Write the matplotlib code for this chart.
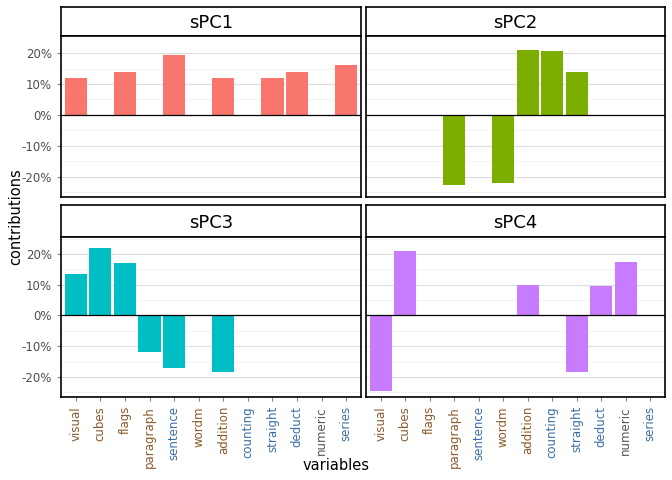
import matplotlib.pyplot as plt
import numpy as np

variables = ["visual", "cubes", "flags", "paragraph", "sentence", "wordm",
             "addition", "counting", "straight", "deduct", "numeric", "series"]
label_colors = ["#8B5A2B", "#8B5A2B", "#8B5A2B", "#8B5A2B", "#3A6EA5", "#8B5A2B",
                "#8B5A2B", "#3A6EA5", "#3A6EA5", "#3A6EA5", "#555555", "#3A6EA5"]
spc1 = [12, 0, 14, 0, 19.5, 0, 12, 0, 12, 14, 0, 16]
spc2 = [0, 0, 0, -22.5, 0, -22, 21, 20.5, 14, 0, 0, 0]
spc3 = [13.5, 22, 17, -12, -17, 0, -18.5, 0, 0, 0, 0, 0]
spc4 = [-24.5, 21, 0, 0, 0, 0, 10, 0, -18.5, 9.5, 17.5, 0]
panels = ["sPC1", "sPC2", "sPC3", "sPC4"]
series = [spc1, spc2, spc3, spc4]
colors = ["#F8766D", "#7CAE00", "#00BFC4", "#C77CFF"]

W, H = 672, 480
fig = plt.figure(figsize=(6.72, 4.8), dpi=100)
lefts = [61, 366]
widths = [300, 299]
strip_tops = [7, 205]
plot_tops = [36, 237]
plot_bots = [197, 397]
x = np.arange(len(variables))

for i, (name, vals, col) in enumerate(zip(panels, series, colors)):
    r, c = divmod(i, 2)
    l, w = lefts[c], widths[c]
    st, pt, pb = strip_tops[r], plot_tops[r], plot_bots[r]
    sax = fig.add_axes([l / W, 1 - pt / H, w / W, (pt - st) / H])
    sax.set_xticks([]); sax.set_yticks([])
    for s in sax.spines.values():
        s.set_linewidth(1.2)
    sax.text(0.5, 0.45, name, ha="center", va="center", fontsize=13, transform=sax.transAxes)
    ax = fig.add_axes([l / W, 1 - pb / H, w / W, (pb - pt) / H])
    ax.bar(x, vals, width=0.9, color=col, zorder=3)
    ax.axhline(0, color="black", lw=0.9, zorder=4)
    ax.set_ylim(-26.5, 25.5)
    ax.set_xlim(-0.6, len(variables) - 0.4)
    ax.set_yticks([-20, -10, 0, 10, 20])
    ax.set_yticks([-25, -15, -5, 5, 15, 25], minor=True)
    ax.grid(True, axis="y", which="major", color="#DDDDDD", lw=0.8, zorder=0)
    ax.grid(True, axis="y", which="minor", color="#EEEEEE", lw=0.5, zorder=0)
    ax.tick_params(axis="both", which="both", color="#888888", length=3)
    ax.tick_params(axis="y", which="minor", length=0)
    if c == 0:
        ax.set_yticklabels([f"{v}%" for v in [-20, -10, 0, 10, 20]], fontsize=8.5, color="#4D4D4D")
    else:
        ax.set_yticklabels([])
        ax.tick_params(axis="y", length=0)
    ax.set_xticks(x)
    if r == 1:
        ax.set_xticklabels(variables, rotation=90, fontsize=8.5)
        for t, lc in zip(ax.get_xticklabels(), label_colors):
            t.set_color(lc)
    else:
        ax.set_xticklabels([])
        ax.tick_params(axis="x", length=0)
    for s in ax.spines.values():
        s.set_linewidth(1.2)

fig.text(336 / W, 1 - 466 / H, "variables", ha="center", va="center", fontsize=10.5)
fig.text(16 / W, 1 - 217 / H, "contributions", ha="center", va="center", rotation=90, fontsize=10.5)
fig.savefig("out.png", dpi=100)
